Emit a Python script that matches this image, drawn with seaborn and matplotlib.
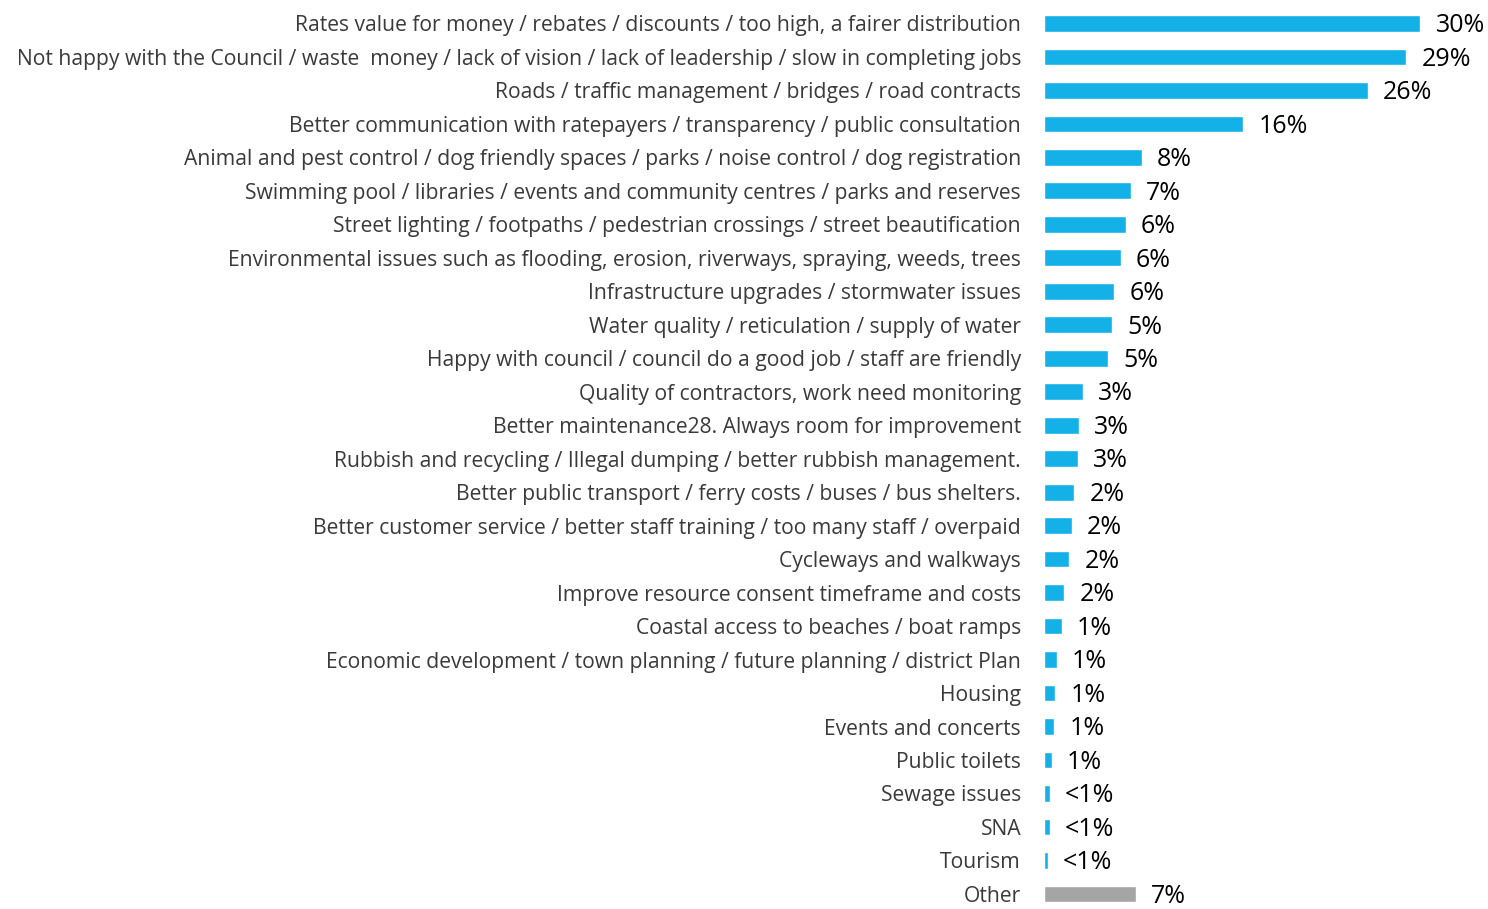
import matplotlib
matplotlib.use("Agg")
import matplotlib.pyplot as plt
import seaborn as sns
import pandas as pd

categories = [
    "Rates value for money / rebates / discounts / too high, a fairer distribution",
    "Not happy with the Council / waste  money / lack of vision / lack of leadership / slow in completing jobs",
    "Roads / traffic management / bridges / road contracts",
    "Better communication with ratepayers / transparency / public consultation",
    "Animal and pest control / dog friendly spaces / parks / noise control / dog registration",
    "Swimming pool / libraries / events and community centres / parks and reserves",
    "Street lighting / footpaths / pedestrian crossings / street beautification",
    "Environmental issues such as flooding, erosion, riverways, spraying, weeds, trees",
    "Infrastructure upgrades / stormwater issues",
    "Water quality / reticulation / supply of water",
    "Happy with council / council do a good job / staff are friendly",
    "Quality of contractors, work need monitoring",
    "Better maintenance28. Always room for improvement",
    "Rubbish and recycling / Illegal dumping / better rubbish management.",
    "Better public transport / ferry costs / buses / bus shelters.",
    "Better customer service / better staff training / too many staff / overpaid",
    "Cycleways and walkways",
    "Improve resource consent timeframe and costs",
    "Coastal access to beaches / boat ramps",
    "Economic development / town planning / future planning / district Plan",
    "Housing",
    "Events and concerts",
    "Public toilets",
    "Sewage issues",
    "SNA",
    "Tourism",
    "Other",
]

percentages = [
    30.0, 28.9, 25.8, 15.9, 7.8, 6.9, 6.5, 6.1, 5.6, 5.4, 5.1, 3.1, 2.8, 2.7,
    2.4, 2.2, 2.0, 1.6, 1.4, 1.0, 0.9, 0.8, 0.6, 0.45, 0.45, 0.3, 7.3,
]

BLUE = "#14B1E8"
GREY = "#A5A5A5"
colors = [GREY if c == "Other" else BLUE for c in categories]

df = pd.DataFrame({"category": categories, "pct": percentages})

sns.set_theme(style="white")
plt.rcParams["font.family"] = ["Open Sans", "DejaVu Sans"]

fig = plt.figure(figsize=(14.88, 9.09), dpi=100)
ax = fig.add_axes([1044 / 1488, 0.0, 1 - 1044 / 1488, 1.0])

sns.barplot(
    data=df, x="pct", y="category", hue="category",
    palette=colors, legend=False, width=0.5, ax=ax, saturation=1,
)

ax.set_xlim(0, 35.4)
ax.set_ylim(26.45, -0.70)
ax.set_xlabel("")
ax.set_ylabel("")
ax.set_xticks([])
for s in ax.spines.values():
    s.set_visible(False)
ax.tick_params(axis="y", length=0, pad=16.5, labelsize=15.2, labelcolor="#3A3A3A")


def pct_label(v):
    return "<1%" if v < 0.5 else f"{v:.0f}%"


# value labels: baseline sits half a cap-height below the bar centre
for i, v in enumerate(percentages):
    ax.annotate(
        pct_label(v), xy=(v, i), xytext=(11, -6.3), textcoords="offset points",
        ha="left", va="baseline", fontsize=18, color="#000000",
    )

fig.savefig("out.png", dpi=100)
